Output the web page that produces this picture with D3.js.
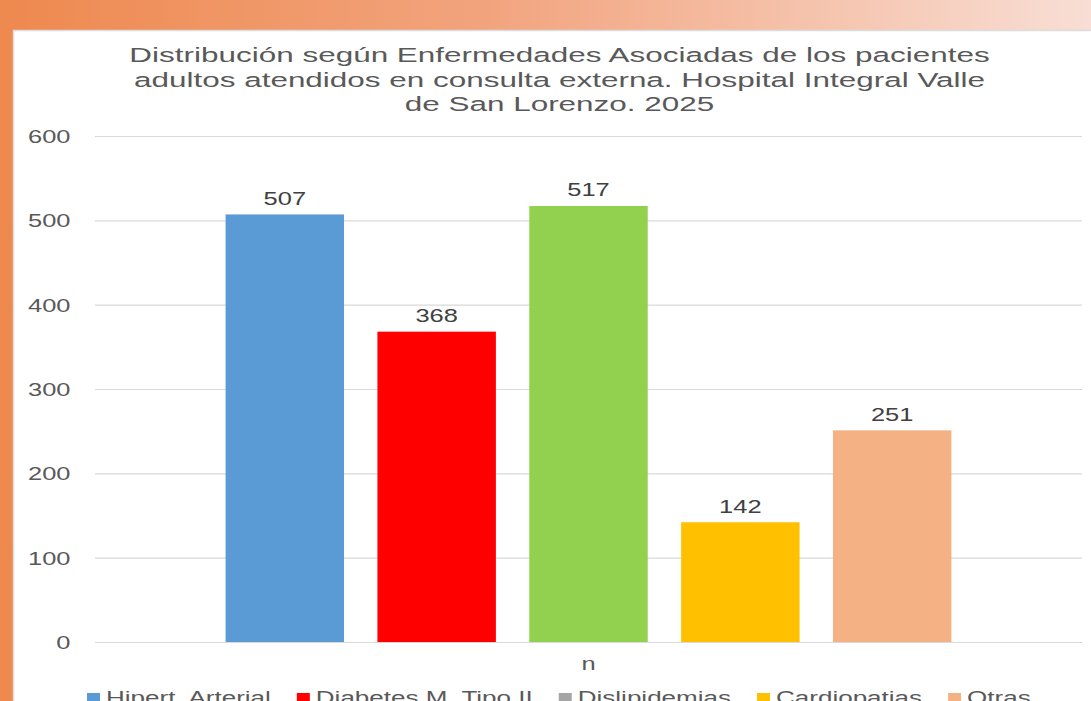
<!DOCTYPE html>
<html>
<head>
<meta charset="utf-8">
<script src="https://cdn.jsdelivr.net/npm/d3@7"></script>
<style>
  html, body { margin: 0; padding: 0; background: #fff; overflow: hidden; }
  svg { display: block; font-family: "Liberation Sans", Arial, sans-serif; }
</style>
</head>
<body>
<div id="chart"></div>
<script>
// data
const category = ["n"];
const series = ["Hipert. Arterial", "Diabetes M. Tipo II", "Dislipidemias", "Cardiopatias", "Otras"];
const values = [507, 368, 517, 142, 251];
const barColors = ["#5B9BD5", "#FF0000", "#92D050", "#FFC000", "#F4B183"];
const legendColors = ["#5B9BD5", "#FF0000", "#A5A5A5", "#FFC000", "#F4B183"];
const yTicks = [0, 100, 200, 300, 400, 500, 600];
const titleLines = [
    "Distribución según Enfermedades Asociadas de los pacientes",
    "adultos atendidos en consulta externa. Hospital Integral Valle",
    "de San Lorenzo. 2025"
];

const width = 1091, height = 701;
const stretch = 1.44; // picture is horizontally stretched
const plot = { left: 95, right: 1082, top: 136, bottom: 642 };

const svg = d3.select("#chart").append("svg")
    .attr("width", width)
    .attr("height", height);

// background frame: orange gradient band on top, stripe on the left
const grad = svg.append("defs").append("linearGradient")
    .attr("id", "band").attr("x1", 0).attr("x2", 1).attr("y1", 0).attr("y2", 0);
grad.append("stop").attr("offset", 0).attr("stop-color", "#EE894F");
grad.append("stop").attr("offset", 0.45).attr("stop-color", "#F2A47E");
grad.append("stop").attr("offset", 1).attr("stop-color", "#F8DED5");

svg.append("rect").attr("x", 0).attr("y", 0).attr("width", width).attr("height", height)
    .attr("fill", "#EE894F");
svg.append("rect").attr("x", 0).attr("y", 0).attr("width", width).attr("height", 31)
    .attr("fill", "url(#band)");
svg.append("rect")
    .attr("x", 13.5).attr("y", 30.5)
    .attr("width", width).attr("height", height)
    .attr("fill", "#fff")
    .attr("stroke", "#dcdcdc")
    .attr("stroke-width", 1.5);

// helper for horizontally stretched text
function stretchedText(parent, x, y, txt, opts) {
    const g = parent.append("g").attr("transform", `translate(${x},${y}) scale(${opts.sx || stretch},1)`);
    return g.append("text")
        .attr("text-anchor", opts.anchor || "middle")
        .attr("font-size", opts.size)
        .attr("fill", opts.color)
        .text(txt);
}

// title
titleLines.forEach((line, i) => {
    stretchedText(svg, 559.5, 62 + i * 24.5, line, { size: 20.5, color: "#595959", sx: 1.535 });
});

// scales
const y = d3.scaleLinear().domain([0, 600]).range([plot.bottom, plot.top]);
const x0 = d3.scaleBand().domain(category).range([plot.left, plot.right]).paddingOuter(0.15);
const x1 = d3.scaleBand().domain(series).range([0, x0.bandwidth()])
    .paddingInner(0.22).paddingOuter(0.11);

// y axis with gridlines
const yAxis = svg.append("g")
    .attr("transform", `translate(${plot.left},0)`)
    .call(d3.axisLeft(y).tickValues(yTicks).tickSize(-(plot.right - plot.left)).tickPadding(0));
yAxis.select(".domain").remove();
yAxis.selectAll(".tick line").attr("stroke", "#d9d9d9").attr("stroke-width", 1.2);
yAxis.selectAll(".tick text")
    .attr("x", -24.5 / stretch)
    .attr("dy", "0.36em")
    .attr("transform", `scale(${stretch},1)`)
    .attr("font-size", 17.7)
    .attr("font-family", "'Liberation Sans', Arial, sans-serif")
    .attr("fill", "#595959");

// bars
const group = svg.append("g").attr("transform", `translate(${x0("n")},0)`);
group.selectAll("rect")
    .data(series)
    .join("rect")
    .attr("x", d => x1(d))
    .attr("y", (d, i) => y(values[i]))
    .attr("width", x1.bandwidth())
    .attr("height", (d, i) => y(0) - y(values[i]))
    .attr("fill", (d, i) => barColors[i]);

// value labels
series.forEach((s, i) => {
    stretchedText(group, x1(s) + x1.bandwidth() / 2, y(values[i]) - 9.5, values[i],
        { size: 17.7, color: "#404040" });
});

// category label
stretchedText(svg, x0("n") + x0.bandwidth() / 2, 670, category[0], { size: 17.7, color: "#595959" });

// legend (cut off at bottom edge like the picture)
const legend = svg.append("g");
const legendStretch = 1.47;
let lx = 87;
series.forEach((s, i) => {
    legend.append("rect")
        .attr("x", lx).attr("y", 693)
        .attr("width", 13).attr("height", 9.5)
        .attr("fill", legendColors[i]);
    const t = stretchedText(legend, lx + 19, 704, s,
        { size: 17.7, color: "#595959", anchor: "start", sx: legendStretch });
    lx += 19 + t.node().getComputedTextLength() * legendStretch + 26;
});
</script>
</body>
</html>
